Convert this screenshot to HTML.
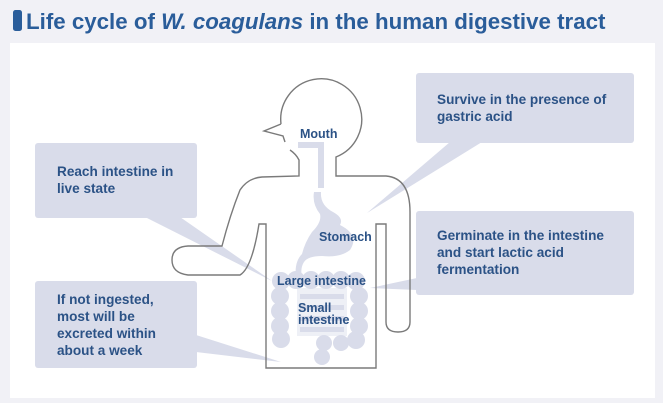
<!DOCTYPE html>
<html><head><meta charset="utf-8"><style>
html,body{margin:0;padding:0;width:663px;height:403px;overflow:hidden;background:#f1f1f6;}
svg{display:block}
text{font-family:"Liberation Sans",sans-serif;font-weight:bold;fill:#2b5286;}
</style></head><body>
<svg width="663" height="403" viewBox="0 0 663 403">
<rect x="0" y="0" width="663" height="403" fill="#f1f1f6"/>
<rect x="10" y="43" width="645" height="355" fill="#fff"/>
<rect x="13" y="10" width="9" height="21" rx="2.5" fill="#2a5d9a"/>
<text x="26" y="29" font-size="22.3" style="fill:#2a5d9a">Life cycle of <tspan font-style="italic">W. coagulans</tspan> in the human digestive tract</text>

<g fill="#d9dcea">
<rect x="416" y="73" width="218" height="70" rx="3"/>
<polygon points="450,142 482,142 367,213"/>
<rect x="416" y="211" width="218" height="84" rx="3"/>
<polygon points="417,278 417,290 370,288"/>
<rect x="35" y="143" width="162" height="75" rx="3"/>
<polygon points="145,217 180,217 272,281"/>
<rect x="35" y="281" width="162" height="87" rx="3"/>
<polygon points="196,335 196,352 281,362"/>
</g>

<g fill="none" stroke="#7a7a7a" stroke-width="1.4">
<path d="M281,124 A40.5,40.5 0 1 1 336,157 L336,176 L386,176 Q410,178 410,212 L410,322 Q410,332 398,332 Q386,332 386,322 L386,224 L376,224 L376,368 L266,368 L266,224 L259,224 Q252,268 240,275 L188,275 Q172,273 172,260 Q172,247 188,246 L222,246 Q230,215 240,190 Q248,178 262,177 L299,176 L299,160 Q296,154 290,150"/>
<path d="M281,124 L264,131 L283,136 L285,142"/>
</g>

<g fill="#d9dcea">
<rect x="298" y="142" width="26" height="6"/>
<rect x="318" y="142" width="6" height="46"/>
<path d="M321,192 Q320,205 333,212 Q344,218 340,225 Q360,235 350,250 Q340,258 322,256 Q308,256 304,262 Q300,268 302,278 L296,278 Q294,262 302,254 Q305,242 312,232 Q322,222 320,214 Q312,204 314,192 Z"/>
<rect x="297" y="288" width="50" height="48" fill="#eef0f6"/>
<circle cx="281" cy="281" r="9"/><circle cx="296" cy="280" r="9"/><circle cx="311" cy="280" r="9"/><circle cx="326" cy="280" r="9"/><circle cx="341" cy="280" r="9"/><circle cx="356" cy="281" r="9"/>
<circle cx="280" cy="296" r="9"/><circle cx="280" cy="311" r="9"/><circle cx="280" cy="326" r="9"/><circle cx="281" cy="339" r="9"/>
<circle cx="359" cy="296" r="9"/><circle cx="359" cy="311" r="9"/><circle cx="359" cy="326" r="9"/><circle cx="356" cy="340" r="9"/>
<circle cx="341" cy="343" r="8"/><circle cx="324" cy="343" r="8"/><circle cx="322" cy="357" r="8"/>
<rect x="300" y="294" width="44" height="5"/>
<rect x="300" y="305" width="44" height="5"/>
<rect x="300" y="316" width="44" height="5"/>
<rect x="300" y="327" width="44" height="5"/>
</g>

<g font-size="12.5">
<text x="300" y="138">Mouth</text>
<text x="319" y="241">Stomach</text>
<text x="277" y="285">Large intestine</text>
<text x="298" y="312">Small</text>
<text x="298" y="324">intestine</text>
</g>
<g font-size="13.6">
<text x="437" y="104">Survive in the presence of</text>
<text x="437" y="121">gastric acid</text>
<text x="437" y="240">Germinate in the intestine</text>
<text x="437" y="257">and start lactic acid</text>
<text x="437" y="274">fermentation</text>
<text x="57" y="176">Reach intestine in</text>
<text x="57" y="193">live state</text>
<text x="57" y="304">If not ingested,</text>
<text x="57" y="321">most will be</text>
<text x="57" y="338">excreted within</text>
<text x="57" y="355">about a week</text>
</g>
</svg>
</body></html>
